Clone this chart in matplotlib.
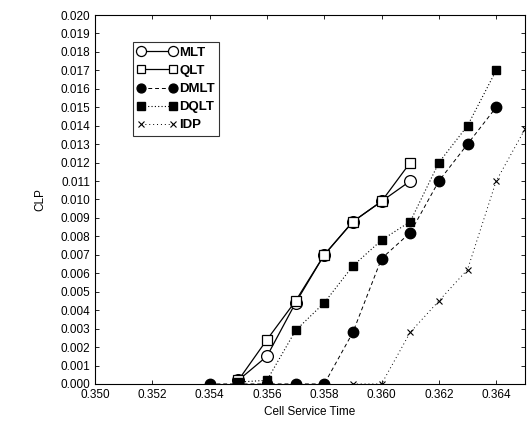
import matplotlib.pyplot as plt
import numpy as np

plt.rcParams["font.family"] = ["Liberation Sans", "DejaVu Sans"]

# data
x_mlt = [0.355, 0.356, 0.357, 0.358, 0.359, 0.360, 0.361]
y_mlt = [0.0002, 0.0015, 0.0044, 0.0070, 0.0088, 0.0099, 0.0110]

x_qlt = [0.355, 0.356, 0.357, 0.358, 0.359, 0.360, 0.361]
y_qlt = [0.0002, 0.0024, 0.0045, 0.0070, 0.0088, 0.0099, 0.0120]

x_dmlt = [0.354, 0.355, 0.356, 0.357, 0.358, 0.359, 0.360, 0.361, 0.362, 0.363, 0.364]
y_dmlt = [0.0, 0.0, 0.0, 0.0, 0.0, 0.0028, 0.0068, 0.0082, 0.0110, 0.0130, 0.0150]

x_dqlt = [0.355, 0.356, 0.357, 0.358, 0.359, 0.360, 0.361, 0.362, 0.363, 0.364]
y_dqlt = [0.0001, 0.0002, 0.0029, 0.0044, 0.0064, 0.0078, 0.0088, 0.0120, 0.0140, 0.0170]

x_idp = [0.359, 0.360, 0.361, 0.362, 0.363, 0.364, 0.365]
y_idp = [0.0, 0.0, 0.0028, 0.0045, 0.0062, 0.0110, 0.0138]

fig = plt.figure(figsize=(5.28, 4.29), dpi=100)
ax = fig.add_axes([0.18, 0.105, 0.814, 0.86])

ax.plot(x_mlt, y_mlt, color="black", linestyle="-", linewidth=0.9,
        marker="o", markersize=8.5, markerfacecolor="white", markeredgewidth=0.9, label="MLT")
ax.plot(x_qlt, y_qlt, color="black", linestyle="-", linewidth=0.9,
        marker="s", markersize=6.5, markerfacecolor="white", markeredgewidth=0.9, label="QLT")
ax.plot(x_dmlt, y_dmlt, color="black", linestyle=(0, (4, 3)), linewidth=0.7,
        marker="o", markersize=7.5, label="DMLT")
ax.plot(x_dqlt, y_dqlt, color="black", linestyle=(0, (1, 2)), linewidth=0.8,
        marker="s", markersize=6, label="DQLT")
ax.plot(x_idp, y_idp, color="black", linestyle=(0, (1, 3)), linewidth=0.7,
        marker="x", markersize=5, markeredgewidth=0.8, label="IDP")

ax.set_xlim(0.350, 0.365)
ax.set_ylim(0.0, 0.020)
ax.set_xticks(np.arange(0.350, 0.3641, 0.002))
ax.set_yticks(np.arange(0.0, 0.0201, 0.001))
ax.xaxis.set_major_formatter(plt.FormatStrFormatter("%.3f"))
ax.yaxis.set_major_formatter(plt.FormatStrFormatter("%.3f"))
ax.tick_params(direction="in", top=True, right=True, labelsize=8.5, length=3, width=0.6)

for s in ax.spines.values():
    s.set_linewidth(0.8)

ax.set_xlabel("Cell Service Time", fontsize=8.5)
ax.set_ylabel("CLP", fontsize=8.5, labelpad=10)

leg = ax.legend(loc="upper left", bbox_to_anchor=(0.088, 0.927), numpoints=2,
                fontsize=9.5, frameon=True, fancybox=False, handlelength=3.0,
                handletextpad=0.15, borderpad=0.35, labelspacing=0.45,
                borderaxespad=0, markerscale=0.85)
leg.get_frame().set_edgecolor("black")
leg.get_frame().set_linewidth(0.8)
for t in leg.get_texts():
    t.set_fontweight("bold")

fig.savefig("out.png", dpi=100)
